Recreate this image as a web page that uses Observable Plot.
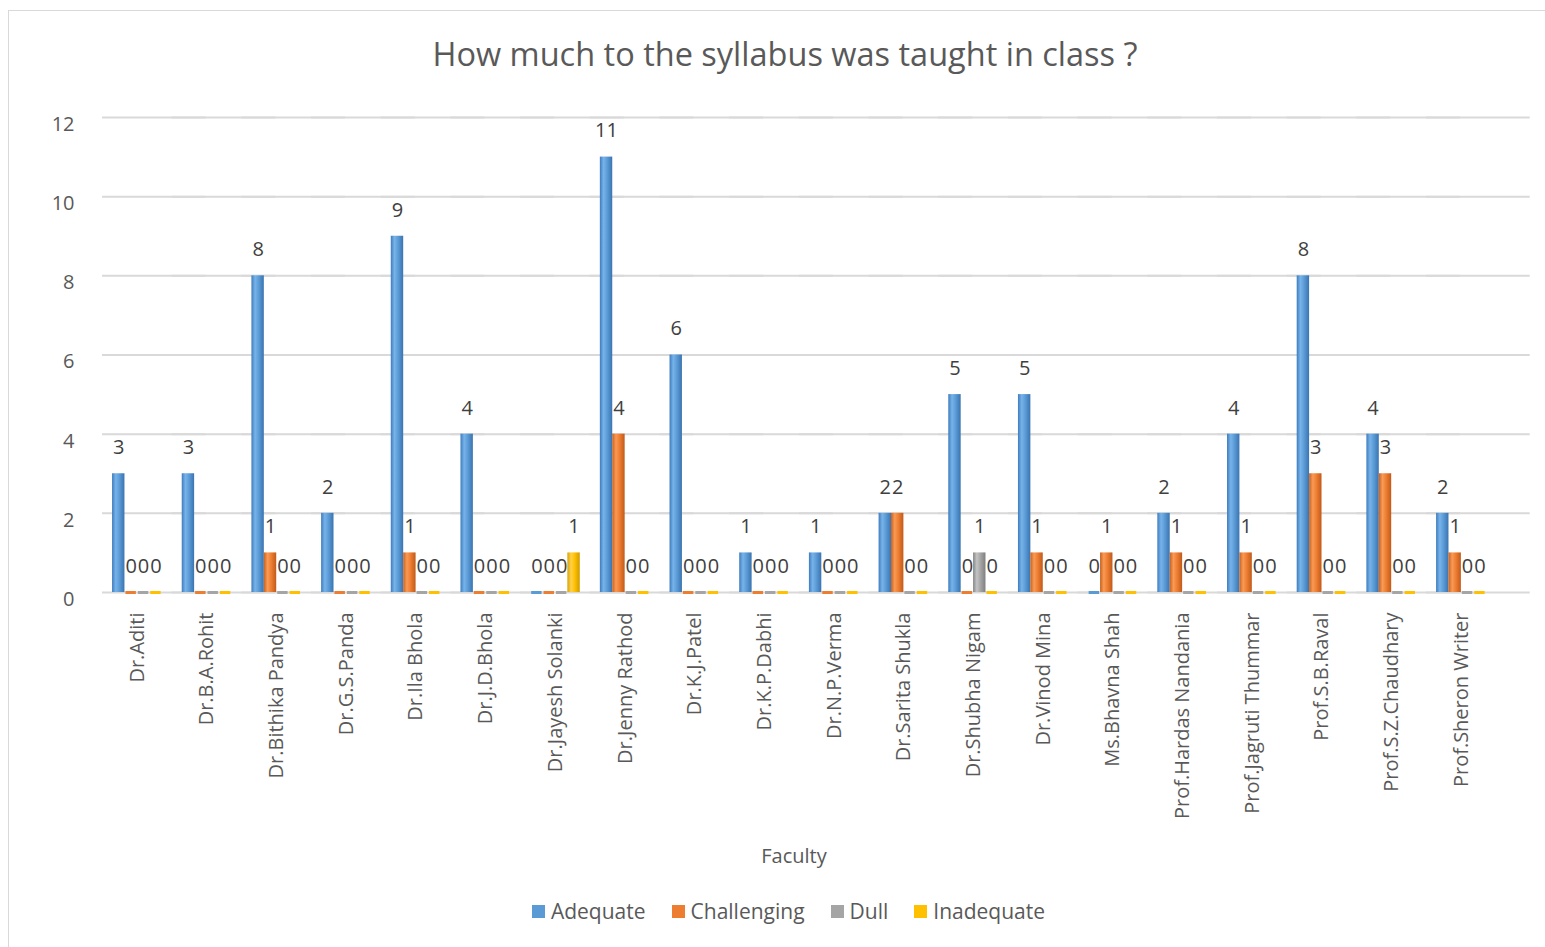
<!DOCTYPE html>
<html><head><meta charset="utf-8">
<script src="https://cdn.jsdelivr.net/npm/d3@7"></script>
<script src="https://cdn.jsdelivr.net/npm/@observablehq/plot@0.6"></script>
<style>
body{margin:0;background:#fff;font-family:"Open Sans",sans-serif;}
#wrap{position:relative;width:1545px;height:947px;overflow:hidden;background:#fff;}
#border{position:absolute;left:8px;top:10px;width:1600px;height:1000px;border:1px solid #d9d9d9;}
#title{position:absolute;left:0;width:1570px;top:38px;text-align:center;font-size:32.5px;line-height:32.5px;color:#595959;white-space:nowrap;}
#chart{position:absolute;left:0;top:90px;}
#xlabel{position:absolute;left:0;width:1588px;top:846px;text-align:center;font-size:20px;line-height:20px;color:#595959;}
#legend{position:absolute;left:0;width:1577px;top:901px;display:flex;justify-content:center;align-items:center;font-size:21px;line-height:21px;color:#595959;}
.item{display:flex;align-items:center;margin:0 13px;}
.sw{width:13px;height:13px;margin-right:6px;}
</style></head>
<body>
<div id="wrap">
<div id="border"></div>
<div id="title">How much to the syllabus was taught in class ?</div>
<div id="chart"></div>
<div id="xlabel">Faculty</div>
<div id="legend"></div>
</div>
<script>
const faculty = ["Dr.Aditi","Dr.B.A.Rohit","Dr.Bithika Pandya","Dr.G.S.Panda","Dr.Ila Bhola","Dr.J.D.Bhola","Dr.Jayesh Solanki","Dr.Jenny Rathod","Dr.K.J.Patel","Dr.K.P.Dabhi","Dr.N.P.Verma","Dr.Sarita Shukla","Dr.Shubha Nigam","Dr.Vinod Mina","Ms.Bhavna Shah","Prof.Hardas Nandania","Prof.Jagruti Thummar","Prof.S.B.Raval","Prof.S.Z.Chaudhary","Prof.Sheron Writer"];
const adequate    = [3,3,8,2,9,4,0,11,6,1,1,2,5,5,0,2,4,8,4,2];
const challenging = [0,0,1,0,1,0,0,4,0,0,0,2,0,1,1,1,1,3,3,1];
const dull        = [0,0,0,0,0,0,0,0,0,0,0,0,1,0,0,0,0,0,0,0];
const inadequate  = [0,0,0,0,0,0,1,0,0,0,0,0,0,0,0,0,0,0,0,0];
const seriesNames = ["Adequate","Challenging","Dull","Inadequate"];
const colors = ["#5b9bd5","#ed7d31","#a5a5a5","#ffc000"];
const yTicks = [0,2,4,6,8,10,12];

const seriesValues = [adequate, challenging, dull, inadequate];
const data = [];
faculty.forEach((f,i) => seriesValues.forEach((vals,j) => data.push({faculty:f, series:seriesNames[j], value:vals[i]})));

const chart = Plot.plot({
  width:1545, height:750, marginTop:27, marginBottom:248, marginLeft:102, marginRight:15,
  style:{fontFamily:'"Open Sans", sans-serif', fontSize:"20px", color:"#595959", background:"transparent", overflow:"visible"},
  fx:{domain:faculty, paddingInner:0, paddingOuter:0.246, align:0, round:false, axis:null, label:null},
  x:{domain:seriesNames, paddingInner:0, paddingOuter:0.81, round:false, axis:null},
  y:{domain:[0,12], axis:null},
  color:{domain:seriesNames, range:colors},
  marks:[
    Plot.gridY(yTicks, {stroke:"#d9d9d9", strokeOpacity:1, strokeWidth:2, insetRight:-34}),
    Plot.axisY(yTicks, {tickSize:0, tickPadding:28, fontSize:20, dy:7, label:null}),
    Plot.axisFx({anchor:"bottom", tickRotate:-90, tickSize:0, tickPadding:20, fontSize:20, label:null}),
    Plot.barY(data, {fx:"faculty", x:"series", y:"value", fill:"series"}),
    Plot.tickY(data.filter(d => d.value === 0), {fx:"faculty", x:"series", y:"value", stroke:"series", strokeWidth:3, insetLeft:1, insetRight:1}),
    Plot.text(data, {fx:"faculty", x:"series", y:"value", text:d => String(d.value), dy:-26, fill:"#404040", fontSize:20})
  ]
});
document.getElementById("chart").appendChild(chart);

// cylinder-like shading
const shades = {
  "#5b9bd5":["#3f7cbd","#77b3ea","#5b9bd5","#3a74b0"],
  "#ed7d31":["#c8611f","#f99a55","#ed7d31","#c05a1a"],
  "#a5a5a5":["#858585","#c4c4c4","#a5a5a5","#7f7f7f"],
  "#ffc000":["#d9a200","#ffd24d","#ffc000","#cf9b00"]
};
const svg = d3.select(chart);
const defs = svg.insert("defs", ":first-child");
Object.entries(shades).forEach(([c, s], k) => {
  const g = defs.append("linearGradient").attr("id", "cyl" + k).attr("x1", 0).attr("x2", 1).attr("y1", 0).attr("y2", 0);
  [[0,s[0]],[0.3,s[1]],[0.6,s[2]],[1,s[3]]].forEach(([o,col]) => g.append("stop").attr("offset", o).attr("stop-color", col));
});
const keys = Object.keys(shades);
svg.selectAll("rect").each(function() {
  const f = (this.getAttribute("fill") || "").toLowerCase();
  const k = keys.indexOf(f);
  if (k >= 0) this.setAttribute("fill", "url(#cyl" + k + ")");
});

const legend = document.getElementById("legend");
seriesNames.forEach((s,i) => {
  const it = document.createElement("div"); it.className = "item";
  it.innerHTML = `<div class="sw" style="background:${colors[i]}"></div><span>${s}</span>`;
  legend.appendChild(it);
});
</script>
</body></html>
